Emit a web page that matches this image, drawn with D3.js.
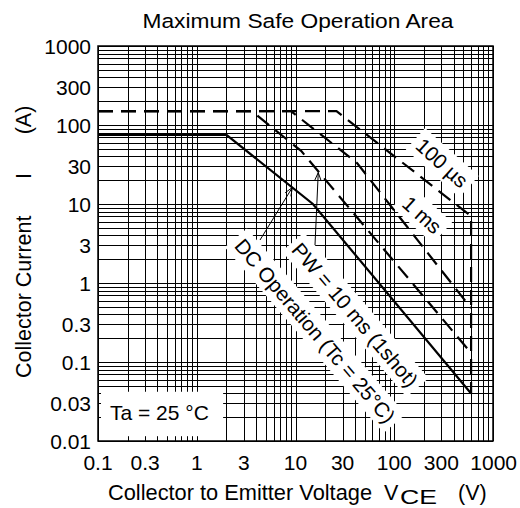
<!DOCTYPE html>
<html>
<head>
<meta charset="utf-8">
<script src="https://cdn.jsdelivr.net/npm/d3@7"></script>
<style>
  html, body { margin: 0; padding: 0; background: #fff; }
  svg { display: block; }
  text { font-family: "Liberation Sans", Arial, Helvetica, sans-serif; fill: #000; }
</style>
</head>
<body>
<svg id="chart" width="520" height="508"></svg>
<script>
// ---------------- data ----------------
const titleText = "Maximum Safe Operation Area";
const voltTicks = [0.1, 0.3, 1, 3, 10, 30, 100, 300, 1000];
const voltTickLabels = ["0.1", "0.3", "1", "3", "10", "30", "100", "300", "1000"];
const currTicks = [0.01, 0.03, 0.1, 0.3, 1, 3, 10, 30, 100, 300, 1000];
const currTickLabels = ["0.01", "0.03", "0.1", "0.3", "1", "3", "10", "30", "100", "300", "1000"];

const dcVoltage = [0.1, 2, 15, 600];
const dcCurrent = [75, 75, 10, 0.04];
const pw10msVoltage = [0.1, 3.6, 11.4, 600];
const pw10msCurrent = [150, 150, 47, 0.13];
const pw1msVoltage = [0.1, 9, 42, 600];
const pw1msCurrent = [150, 150, 33, 0.48];
const pw100usVoltage = [0.1, 26, 600, 600];
const pw100usCurrent = [150, 150, 7, 0.04];

const curveLabels = ["100 µs", "1 ms", "PW = 10 ms (1shot)", "DC Operation (Tc = 25°C)"];
const ambientLabel = "Ta = 25 °C";

// ---------------- layout ----------------
const svg = d3.select("#chart");
const pL = 98, pR = 493, pT = 46, pB = 441;
const x = d3.scaleLog().domain([0.1, 1000]).range([pL, pR]);
const y = d3.scaleLog().domain([0.01, 1000]).range([pB, pT]);
const FONT = 21;

// grid values (1..9 per decade)
const xGrid = [], yGrid = [];
for (let d = -1; d < 3; d++) for (let k = 1; k <= 9; k++) xGrid.push(k * Math.pow(10, d));
xGrid.push(1000);
for (let d = -2; d < 3; d++) for (let k = 1; k <= 9; k++) yGrid.push(k * Math.pow(10, d));
yGrid.push(1000);

const grid = svg.append("g").attr("shape-rendering", "crispEdges").attr("stroke", "#000").attr("stroke-width", 1);
grid.selectAll("line.v").data(xGrid).enter().append("line")
  .attr("x1", d => Math.round(x(d)) + 0.5).attr("x2", d => Math.round(x(d)) + 0.5)
  .attr("y1", pT).attr("y2", pB);
grid.selectAll("line.h").data(yGrid).enter().append("line")
  .attr("y1", d => Math.round(y(d)) + 0.5).attr("y2", d => Math.round(y(d)) + 0.5)
  .attr("x1", pL).attr("x2", pR);

// frame
svg.append("rect").attr("x", pL).attr("y", pT).attr("width", pR - pL).attr("height", pB - pT)
  .attr("fill", "none").attr("stroke", "#000").attr("stroke-width", 1.5);

// Ta box
svg.append("rect").attr("x", pL + 3).attr("y", y(0.042)).attr("width", x(1.85) - pL - 3)
  .attr("height", y(0.0115) - y(0.042)).attr("fill", "#fff");
svg.append("text").attr("x", pL + 12).attr("y", y(0.0185)).attr("font-size", FONT).text(ambientLabel);

// rotated curve labels with white backgrounds
const labelSpecs = [
  { text: curveLabels[0], cx: 442, cy: 163, angle: 42 },
  { text: curveLabels[1], cx: 422, cy: 215, angle: 42 },
  { text: curveLabels[2], cx: 355, cy: 315, angle: 49.5 },
  { text: curveLabels[3], cx: 315, cy: 331, angle: 49.5 }
];
const labelBg = svg.append("g");
const curvesG = svg.append("g");
const labelFg = svg.append("g");
labelSpecs.forEach(s => {
  const g = labelFg.append("g").attr("transform", `translate(${s.cx},${s.cy}) rotate(${s.angle})`);
  const t = g.append("text").attr("text-anchor", "middle").attr("dy", "0.35em")
    .attr("font-size", 20.5).text(s.text);
  const bb = t.node().getBBox();
  labelBg.append("rect").attr("transform", `translate(${s.cx},${s.cy}) rotate(${s.angle})`)
    .attr("x", bb.x - 5).attr("y", bb.y - 3).attr("width", bb.width + 10).attr("height", bb.height + 6)
    .attr("fill", "#fff");
});

// curves
const line = d3.line().x(d => x(d[0])).y(d => y(d[1]));
const zip = (a, b) => a.map((v, i) => [v, b[i]]);
const curves = [
  { v: pw100usVoltage, c: pw100usCurrent, dash: "15,8" },
  { v: pw1msVoltage, c: pw1msCurrent, dash: "15,8" },
  { v: pw10msVoltage, c: pw10msCurrent, dash: "15,8" },
  { v: dcVoltage, c: dcCurrent, dash: null }
];
curves.forEach(cv => {
  curvesG.append("path").attr("d", line(zip(cv.v, cv.c)))
    .attr("fill", "none").attr("stroke", "#000").attr("stroke-width", 2.2)
    .attr("stroke-dasharray", cv.dash).attr("stroke-linejoin", "miter");
});

// pointer arrows
function arrow(x1, y1, x2, y2) {
  const g = labelFg.append("g").attr("stroke", "#000").attr("stroke-width", 1).attr("fill", "none");
  g.append("line").attr("x1", x1).attr("y1", y1).attr("x2", x2).attr("y2", y2);
  const a = Math.atan2(y1 - y2, x1 - x2), L = 9, w = 0.38;
  g.append("path").attr("d",
    `M${x2 + L * Math.cos(a - w)},${y2 + L * Math.sin(a - w)} L${x2},${y2} L${x2 + L * Math.cos(a + w)},${y2 + L * Math.sin(a + w)}`);
}
arrow(260, 240, x(9.3), y(16.2));
arrow(315, 245, x(17), y(25));

// axis tick labels
svg.append("g").selectAll("text").data(voltTicks).enter().append("text")
  .attr("x", (d, i) => i === voltTicks.length - 1 ? 517 : x(d))
  .attr("y", 470).attr("text-anchor", (d, i) => i === voltTicks.length - 1 ? "end" : "middle")
  .attr("font-size", FONT).text((d, i) => voltTickLabels[i]);
svg.append("g").selectAll("text").data(currTicks).enter().append("text")
  .attr("x", 91).attr("y", d => y(d)).attr("dy", "0.36em").attr("text-anchor", "end")
  .attr("font-size", FONT).text((d, i) => currTickLabels[i]);

// title
svg.append("text").attr("x", 142.5).attr("y", 27.5).attr("font-size", 20.5)
  .attr("textLength", 311).attr("lengthAdjust", "spacingAndGlyphs").text(titleText);

// x-axis title
svg.append("text").attr("x", 108).attr("y", 500).attr("font-size", 21.5)
  .attr("textLength", 264).attr("lengthAdjust", "spacingAndGlyphs").text("Collector to Emitter Voltage");
svg.append("text").attr("x", 384).attr("y", 500).attr("font-size", 21.5).text("V");
svg.append("text").attr("x", 400).attr("y", 504).attr("font-size", 21)
  .attr("textLength", 37).attr("lengthAdjust", "spacingAndGlyphs").text("CE");
svg.append("text").attr("x", 458).attr("y", 500).attr("font-size", 21.5).text("(V)");

// y-axis title
svg.append("text").attr("transform", "translate(31,378) rotate(-90)").attr("font-size", 21.5)
  .text("Collector Current");
svg.append("text").attr("transform", "translate(31,176) rotate(-90)").attr("text-anchor", "middle")
  .attr("font-size", 21.5).text("I");
svg.append("text").attr("transform", "translate(31,120) rotate(-90)").attr("text-anchor", "middle")
  .attr("font-size", 21.5).text("(A)");
</script>
</body>
</html>
